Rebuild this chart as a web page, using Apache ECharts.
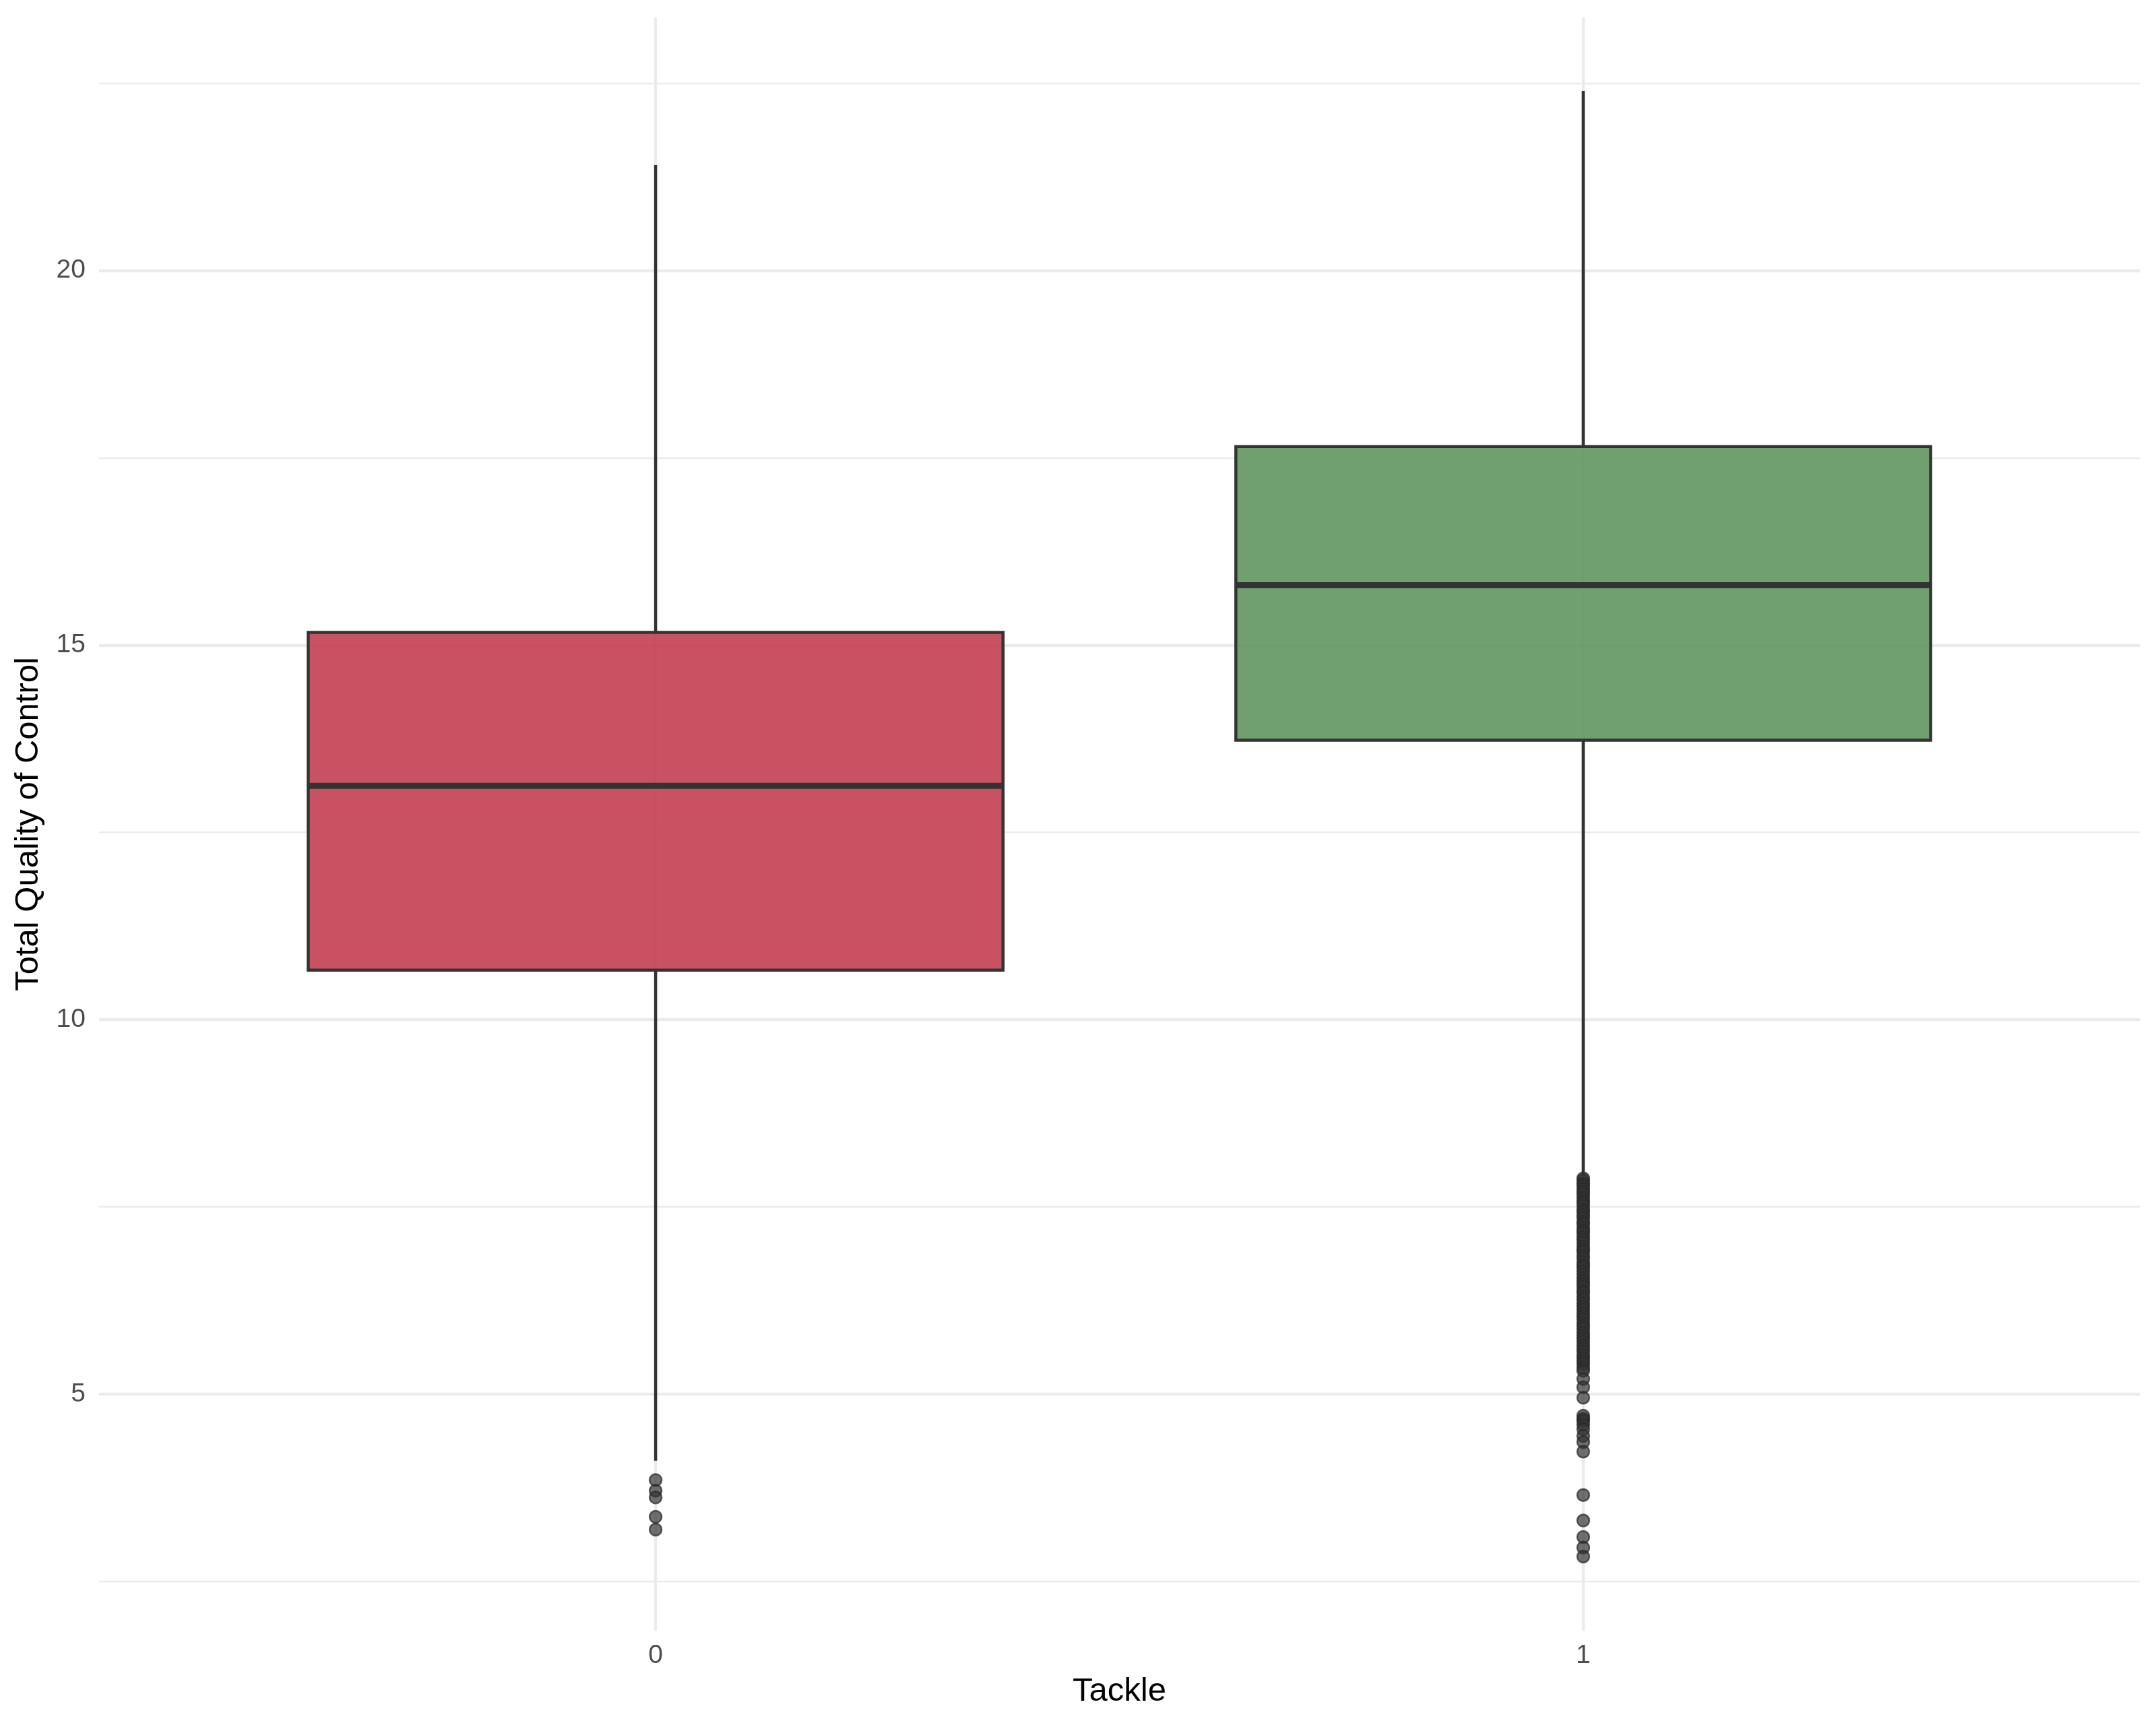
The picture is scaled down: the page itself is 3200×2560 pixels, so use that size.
<!DOCTYPE html>
<html>
<head>
<meta charset="utf-8">
<title>Total Quality of Control by Tackle</title>
<script src="https://cdn.jsdelivr.net/npm/echarts@6/dist/echarts.min.js"></script>
<style>
    html, body { margin: 0; padding: 0; background: #ffffff; }
    #chart { width: 3200px; height: 2560px; }
</style>
</head>
<body>
<div id="chart"></div>
<script>
    // box statistics per tackle group (0 / 1)
    const tackle = [0, 1];
    const xLabels = ['0', '1'];
    const whiskerLow = [4.11, 7.92];
    const q1 = [10.66, 13.73];
    const median = [13.12, 15.80];
    const q3 = [15.17, 17.65];
    const whiskerHigh = [21.41, 22.40];

    // outlying points
    const outliers0 = [3.85, 3.71, 3.62, 3.36, 3.19];
    const outliers1 = [
        7.88, 7.85, 7.81, 7.78, 7.74, 7.70, 7.67, 7.62, 7.58, 7.55, 7.51, 7.46,
        7.43, 7.39, 7.35, 7.30, 7.27, 7.22, 7.18, 7.15, 7.10, 7.06, 7.02, 6.97,
        6.93, 6.90, 6.85, 6.81, 6.76, 6.72, 6.69, 6.64, 6.60, 6.55, 6.51, 6.47,
        6.43, 6.38, 6.35, 6.30, 6.26, 6.21, 6.17, 6.13, 6.08, 6.04, 6.00, 5.95,
        5.91, 5.87, 5.82, 5.78, 5.74, 5.70, 5.65, 5.61, 5.57, 5.52, 5.48, 5.44,
        5.40, 5.35, 5.31, 5.20, 5.09, 4.95, 4.71, 4.67, 4.64, 4.59, 4.53, 4.44,
        4.36, 4.23, 3.65, 3.31, 3.09, 2.95, 2.83
    ];

    const yTicks = [5, 10, 15, 20];
    const yMinorTicks = [2.5, 7.5, 12.5, 17.5, 22.5];

    const fills = ['rgba(195,63,81,0.9)', 'rgba(96,149,96,0.9)'];
    const HALF = 0.3745;   // half box width in x units
    const FONT = '"Liberation Sans", Arial, Helvetica, sans-serif';

    const boxData = tackle.map(function (t, i) {
        return [t, whiskerLow[i], q1[i], median[i], q3[i], whiskerHigh[i]];
    });
    const outlierData = outliers0.map(function (v) { return [tackle[0], v]; })
        .concat(outliers1.map(function (v) { return [tackle[1], v]; }));

    const chart = echarts.init(document.getElementById('chart'));
    chart.setOption({
        backgroundColor: '#ffffff',
        animation: false,
        grid: { left: 147, right: 24, top: 26, bottom: 140 },
        xAxis: {
            type: 'value',
            min: -0.6,
            max: 1.6,
            name: 'Tackle',
            nameLocation: 'middle',
            nameGap: 66,
            nameTextStyle: { color: '#000000', fontSize: 49, fontFamily: FONT },
            axisLine: { show: false },
            axisTick: { show: false, customValues: tackle },
            axisLabel: {
                customValues: tackle,
                margin: 18,
                color: '#4D4D4D',
                fontSize: 39,
                fontFamily: FONT,
                formatter: function (v) { return xLabels[tackle.indexOf(v)]; }
            },
            splitLine: { show: true, lineStyle: { color: '#EBEBEB', width: 4.3 } }
        },
        yAxis: [
            {
                type: 'value',
                min: 1.84,
                max: 23.38,
                name: 'Total Quality of Control',
                nameLocation: 'middle',
                nameGap: 80,
                nameTextStyle: { color: '#000000', fontSize: 49, fontFamily: FONT },
                axisLine: { show: false },
                axisTick: { show: false, customValues: yTicks },
                axisLabel: {
                    customValues: yTicks,
                    margin: 20,
                    color: '#4D4D4D',
                    fontSize: 39,
                    fontFamily: FONT
                },
                splitLine: { show: true, lineStyle: { color: '#EBEBEB', width: 4.3 } }
            },
            {
                type: 'value',
                min: 1.84,
                max: 23.38,
                position: 'left',
                axisLine: { show: false },
                axisTick: { show: false, customValues: yMinorTicks },
                axisLabel: { show: false, customValues: yMinorTicks },
                splitLine: { show: true, lineStyle: { color: '#EBEBEB', width: 2.3 } }
            }
        ],
        series: [
            {
                type: 'custom',
                name: 'boxes',
                data: boxData,
                encode: { x: 0, y: [1, 2, 3, 4, 5] },
                z: 3,
                renderItem: function (params, api) {
                    const x = api.value(0);
                    const top = api.coord([x, api.value(5)]);
                    const bot = api.coord([x, api.value(1)]);
                    const q3p = api.coord([x, api.value(4)]);
                    const q1p = api.coord([x, api.value(2)]);
                    const a = api.coord([x - HALF, api.value(4)]);
                    const b = api.coord([x + HALF, api.value(2)]);
                    const m1 = api.coord([x - HALF, api.value(3)]);
                    const m2 = api.coord([x + HALF, api.value(3)]);
                    return {
                        type: 'group',
                        children: [
                            { type: 'line', shape: { x1: top[0], y1: top[1], x2: q3p[0], y2: q3p[1] },
                              style: { stroke: '#333333', lineWidth: 4.5 } },
                            { type: 'line', shape: { x1: bot[0], y1: bot[1], x2: q1p[0], y2: q1p[1] },
                              style: { stroke: '#333333', lineWidth: 4.5 } },
                            { type: 'rect', shape: { x: a[0], y: a[1], width: b[0] - a[0], height: b[1] - a[1] },
                              style: { fill: fills[params.dataIndex], stroke: '#333333', lineWidth: 4.5 } },
                            { type: 'line', shape: { x1: m1[0], y1: m1[1], x2: m2[0], y2: m2[1] },
                              style: { stroke: '#333333', lineWidth: 9 } }
                        ]
                    };
                }
            },
            {
                type: 'scatter',
                name: 'outliers',
                data: outlierData,
                symbol: 'circle',
                symbolSize: 18,
                z: 4,
                itemStyle: {
                    color: 'rgba(51,51,51,0.88)',
                    borderColor: 'rgba(40,40,40,0.9)',
                    borderWidth: 2.5
                }
            }
        ]
    });
</script>
</body>
</html>
